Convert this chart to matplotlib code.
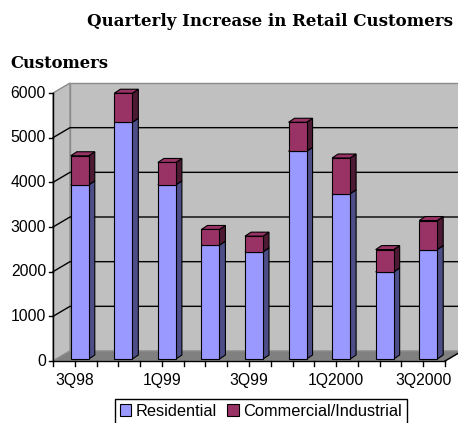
import matplotlib
matplotlib.use('Agg')
import matplotlib.pyplot as plt
from matplotlib.patches import Polygon, Rectangle, Patch

quarters = ['3Q98', '4Q98', '1Q99', '2Q99', '3Q99', '4Q99', '1Q2000', '2Q2000', '3Q2000']
residential = [3900, 5300, 3900, 2550, 2400, 4650, 3700, 1950, 2450]
commercial = [650, 650, 500, 350, 350, 650, 800, 500, 650]
yticks = [0, 1000, 2000, 3000, 4000, 5000, 6000]
label_every = 2

W, H = 458, 423
fig = plt.figure(figsize=(W / 100, H / 100), dpi=100)
fig.patch.set_facecolor('white')
L, R, B, T = 53, 445, 361, 93
ax = fig.add_axes([L / W, 1 - B / H, (R - L) / W, (B - T) / H])
n = len(quarters)
ymax = yticks[-1]
ax.set_xlim(0, n)
ax.set_ylim(0, ymax)
ax.axis('off')

px_x = n / (R - L)
px_y = ymax / (B - T)
DX = 17 * px_x
DY = 10 * px_y

wall_c = '#c0c0c0'
floor_c = '#808080'
edge_c = '#8c8c8c'

# back wall
ax.add_patch(Polygon([(DX, DY), (n + DX, DY), (n + DX, ymax + DY), (DX, ymax + DY)],
                     closed=True, fc=wall_c, ec=edge_c, lw=1, clip_on=False, zorder=0))
# side wall
ax.add_patch(Polygon([(0, 0), (DX, DY), (DX, ymax + DY), (0, ymax)],
                     closed=True, fc=wall_c, ec=edge_c, lw=1, clip_on=False, zorder=0))
# floor
ax.add_patch(Polygon([(0, 0), (n, 0), (n + DX, DY), (DX, DY)],
                     closed=True, fc=floor_c, ec=edge_c, lw=1, clip_on=False, zorder=0.5))

# gridlines
for v in yticks[1:-1]:
    ax.plot([0, DX, n + DX], [v, v + DY, v + DY], color='black', lw=1, clip_on=False, zorder=1)

# axes lines
ax.plot([0, 0], [0, ymax], color='black', lw=1, clip_on=False, zorder=5)
ax.plot([0, n], [0, 0], color='black', lw=1, clip_on=False, zorder=5)
ax.plot([n, n + DX], [0, DY], color='black', lw=1, clip_on=False, zorder=5)
tick_len_x = 4 * px_x
tick_len_y = 5 * px_y
for v in yticks:
    ax.plot([-tick_len_x, 0], [v, v], color='black', lw=1, clip_on=False, zorder=5)
    ax.text(-7 * px_x, v, str(v), ha='right', va='center', fontsize=11.3,
            family='Liberation Sans', color='black')
for k in range(2 * n + 1):
    x = k / 2
    ax.plot([x, x], [0, -tick_len_y], color='black', lw=1, clip_on=False, zorder=5)
for i, q in enumerate(quarters):
    if i % label_every == 0:
        ax.text(i + 0.5, -12 * px_y, q, ha='center', va='top', fontsize=11.3,
                family='Liberation Sans', color='black')

# bars
bw = 18 * px_x
shift_x = 5 * px_x
shift_y = 2 * px_y
ddx = 6 * px_x
ddy = 4 * px_y

res_c = ('#9999ff', '#4d4d88', '#b3b3ff')
com_c = ('#993366', '#4d1933', '#993366')


def draw_seg(x0, b, t, cols, z):
    x1 = x0 + bw
    ax.add_patch(Polygon([(x1, b), (x1 + ddx, b + ddy), (x1 + ddx, t + ddy), (x1, t)],
                         closed=True, fc=cols[1], ec='black', lw=0.8, clip_on=False, zorder=z))
    ax.add_patch(Polygon([(x0, t), (x1, t), (x1 + ddx, t + ddy), (x0 + ddx, t + ddy)],
                         closed=True, fc=cols[2], ec='black', lw=0.8, clip_on=False, zorder=z))
    ax.add_patch(Rectangle((x0, b), bw, t - b, fc=cols[0], ec='black', lw=0.8,
                           clip_on=False, zorder=z + 0.1))


for i in range(n):
    x0 = i + 0.5 - bw / 2 + shift_x
    r = residential[i]
    c = commercial[i]
    draw_seg(x0, shift_y, r + shift_y, res_c, 3)
    draw_seg(x0, r + shift_y, r + c + shift_y, com_c, 3.2)

# titles
fig.text(270 / W, 1 - 22 / H, 'Quarterly Increase in Retail Customers', ha='center', va='center',
         fontsize=12, fontweight='bold', family='DejaVu Serif')
fig.text(10 / W, 1 - 63 / H, 'Customers', ha='left', va='center',
         fontsize=11.8, fontweight='bold', family='DejaVu Serif')

handles = [Patch(fc=res_c[0], ec='black', lw=0.8, label='Residential'),
           Patch(fc=com_c[0], ec='black', lw=0.8, label='Commercial/Industrial')]
leg = fig.legend(handles=handles, loc='upper center', bbox_to_anchor=(261 / W, 1 - 399 / H),
                 ncol=2, frameon=True, fancybox=False, edgecolor='black', framealpha=1,
                 prop={'family': 'Liberation Sans', 'size': 11.8}, handlelength=0.7,
                 handleheight=0.7, handletextpad=0.3, columnspacing=0.6, borderpad=0.3,
                 borderaxespad=0)
leg.get_frame().set_linewidth(1)

fig.savefig('out.png', dpi=100, facecolor='white')
